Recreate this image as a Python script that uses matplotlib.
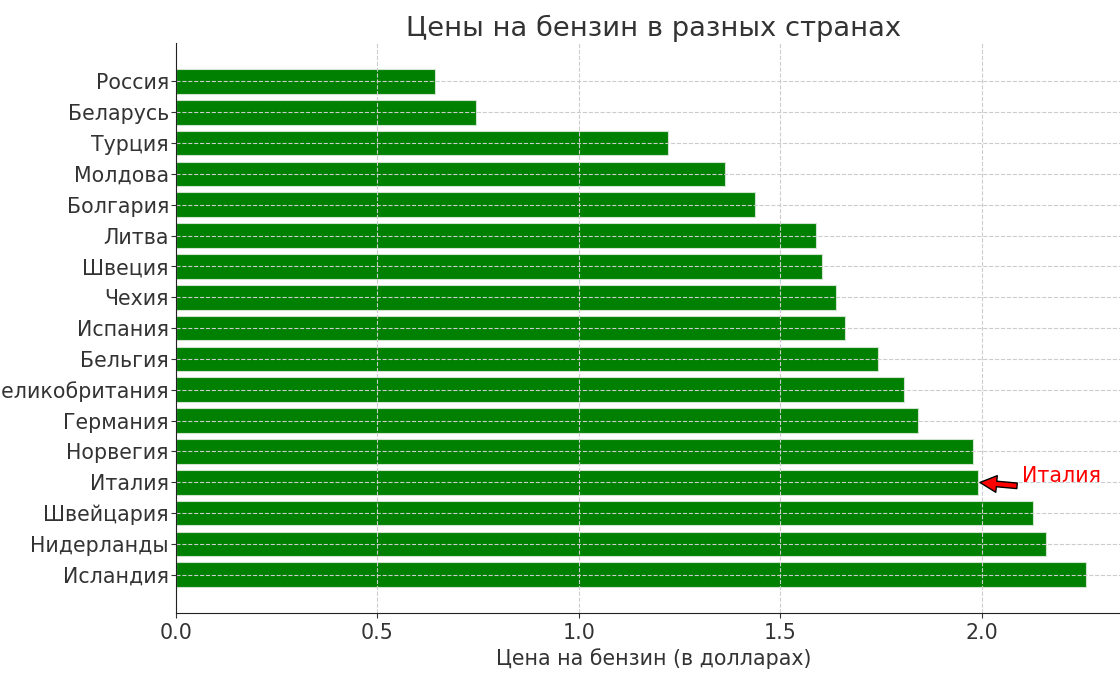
import matplotlib.pyplot as plt

countries = ["Россия", "Беларусь", "Турция", "Молдова", "Болгария", "Литва",
             "Швеция", "Чехия", "Испания", "Бельгия", "Великобритания",
             "Германия", "Норвегия", "Италия", "Швейцария", "Нидерланды",
             "Исландия"]
prices = [0.643, 0.744, 1.221, 1.362, 1.437, 1.588, 1.603, 1.638, 1.660,
          1.742, 1.806, 1.841, 1.978, 1.990, 2.127, 2.159, 2.258]
highlight = "Италия"

plt.rcParams["font.family"] = "DejaVu Sans"
plt.rcParams["text.color"] = "#333333"
plt.rcParams["axes.labelcolor"] = "#333333"
plt.rcParams["xtick.color"] = "#333333"
plt.rcParams["ytick.color"] = "#333333"

fig = plt.figure(figsize=(11.2, 6.8), dpi=100)
ax = fig.add_axes([0.157, 0.0985, 0.853, 0.838])

ax.barh(countries, prices, color="green", edgecolor="#cfe3cf", linewidth=0.8)
ax.invert_yaxis()

ax.grid(True, linestyle="--", color="#cccccc", linewidth=0.8)
ax.spines["top"].set_visible(False)
ax.spines["right"].set_visible(False)
ax.spines["left"].set_color("#222222")
ax.spines["bottom"].set_color("#222222")

# the long label is clipped at the left edge, as in the reference
ax.tick_params(axis="both", labelsize=14.8)
ax.tick_params(axis="y", pad=1.5)
ax.set_title("Цены на бензин в разных странах", fontsize=19.7, pad=5)
ax.set_xlabel("Цена на бензин (в долларах)", fontsize=14.8)

i = countries.index(highlight)
ax.annotate(highlight, xy=(prices[i], i), xytext=(2.1, i),
            color="red", fontsize=14.8,
            arrowprops=dict(facecolor="red", edgecolor="black", shrink=0.05))

plt.savefig("out.png")
